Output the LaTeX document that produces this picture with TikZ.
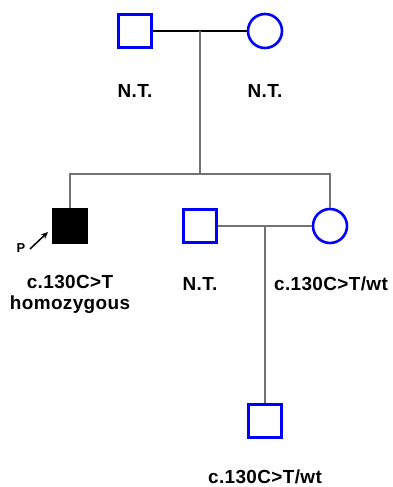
\documentclass[tikz,border=0pt]{standalone}
\usepackage{fontspec}
\setmainfont{Liberation Sans}[LetterSpace=2]
\usetikzlibrary{arrows.meta}
\begin{document}
\begin{tikzpicture}[x=1bp,y=-1bp,
  male/.style={draw=blue,line width=2.6bp,minimum size=33bp,inner sep=0pt,rectangle},
  female/.style={draw=blue,line width=2.6bp,minimum size=34bp,inner sep=0pt,circle},
  affected/.style={draw=black,fill=black,line width=1bp,minimum size=35bp,inner sep=0pt,rectangle},
  lbl/.style={font=\fontsize{19}{21}\selectfont\bfseries,align=center,inner sep=0pt},
  mline/.style={line width=1.2bp},
  gline/.style={line width=1.5bp,draw=black!55}]
\useasboundingbox (0,0) rectangle (392,487);
\fill[white] (0,0) rectangle (392,487);
% generation I
\node[male] (gf) at (135,31) {};
\node[female] (gm) at (265,31) {};
\draw[mline] (gf.east) -- (gm.west);
\coordinate (m1) at (200,31);
\coordinate (s1) at (200,174);
\draw[gline] (m1) -- (s1);
\node[lbl] (lgf) at (135,91) {N.T.};
\node[lbl] (lgm) at (265,91) {N.T.};
% generation II
\node[affected] (pb) at (70,226) {};
\node[male] (sp) at (200,226) {};
\node[female] (dt) at (330,226) {};
\coordinate (sl) at (70,174);
\coordinate (sr) at (330,174);
\draw[gline] (pb.north) -- (sl) -- (sr) -- (dt.north);
\draw[gline] (sp.east) -- (dt.west);
\coordinate (m2) at (265,226);
\node[male] (ch) at (265,421) {};
\draw[gline] (m2) -- (ch.north);
% proband arrow
\coordinate (pa) at (30,249);
\coordinate (pt) at (48,232);
\draw[line width=1.5bp,-{Stealth[length=7bp,width=6bp]}] (pa) -- (pt);
\node[font=\fontsize{13}{14}\selectfont\bfseries,inner sep=0pt] (plbl) at (21,248) {P};
% labels
\node[lbl] (lpb) at (70,294) {c.130C>T\\homozygous};
\node[lbl] (lsp) at (200,284) {N.T.};
\node[lbl] (ldt) at (331,284) {c.130C>T/wt};
\node[lbl] (lch) at (265,477) {c.130C>T/wt};
\end{tikzpicture}
\end{document}
